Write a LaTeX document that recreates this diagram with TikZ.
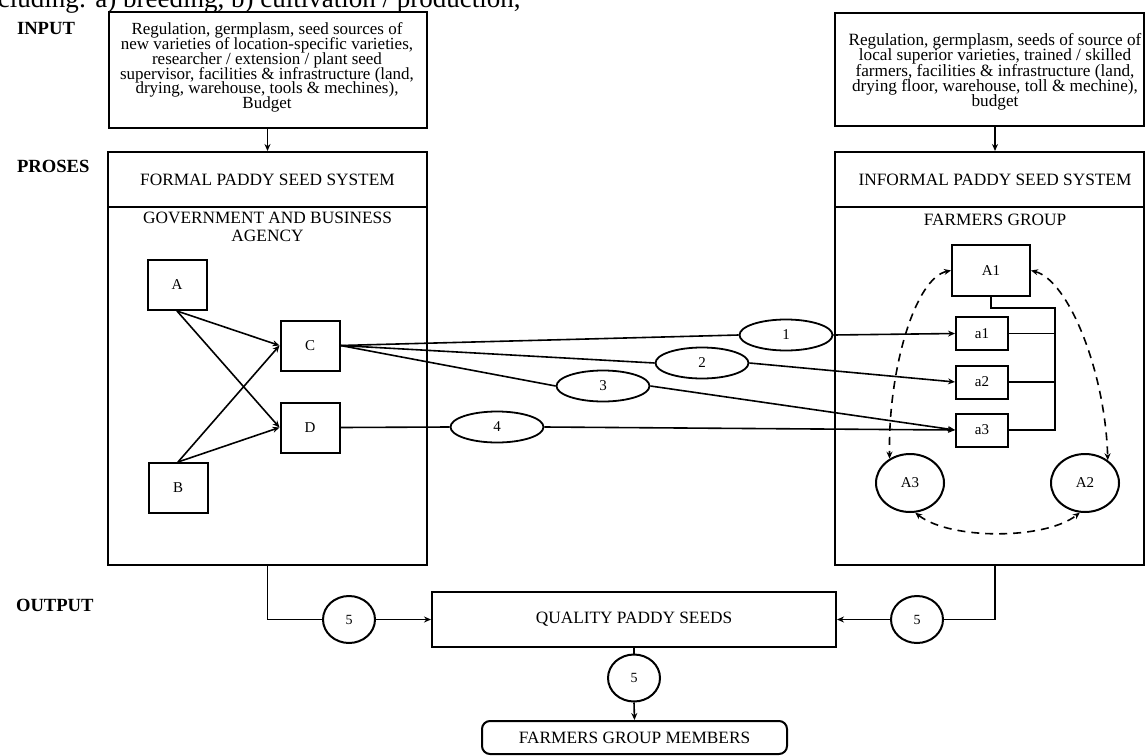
\documentclass[tikz,border=0pt]{standalone}
\usepackage{fontspec}
\setmainfont{Liberation Serif}
\usetikzlibrary{shapes,arrows.meta,positioning,calc}

\newcommand\tightlines{\lineskiplimit=-5pt\relax}

\tikzset{
  stage/.style={anchor=west, font=\fontsize{9.3}{11}\selectfont\bfseries},
  inputbox/.style={draw, line width=1pt, inner sep=0pt},
  inputtext/.style={align=center, inner sep=0pt, font=\fontsize{8.5}{7.4}\selectfont\tightlines},
  sysbox/.style={draw, line width=1pt, inner sep=0pt, font=\fontsize{8.65}{9}\selectfont},
  systext/.style={align=center, inner sep=0pt, font=\fontsize{8.65}{9}\selectfont},
  unitbox/.style={draw, line width=1pt, minimum width=29.5pt, minimum height=25pt, inner sep=0pt, font=\fontsize{7.5}{9}\selectfont},
  subbox/.style={draw, line width=1pt, minimum width=26pt, minimum height=16.5pt, inner sep=0pt, font=\fontsize{7.5}{9}\selectfont},
  stepoval/.style={draw, ellipse, line width=0.9pt, minimum width=46.5pt, minimum height=15.5pt, inner sep=0pt, font=\fontsize{7.5}{9}\selectfont},
  actor/.style={draw, ellipse, line width=1pt, minimum width=34pt, minimum height=29pt, inner sep=0pt, font=\fontsize{7.5}{9}\selectfont},
  fivecirc/.style={draw, ellipse, line width=1pt, minimum width=26pt, minimum height=23.5pt, inner sep=0pt, font=\fontsize{7}{8}\selectfont},
  flow/.style={line width=0.8pt},
  link/.style={line width=0.8pt, dash pattern=on 4pt off 3pt, <->},
  >={Stealth[length=3.5pt,width=3pt]}
}

\begin{document}
\begin{tikzpicture}[x=0.5pt,y=-0.5pt]
    \useasboundingbox (0,0) rectangle (1145,755);

    % Caption line cut at the top
    \node[anchor=base east, inner sep=0pt, font=\fontsize{13.5}{15}\selectfont] (caption) at (521,8)
        {including: a) breeding, b) cultivation / production,};

    % Stage labels
    \node[stage] (lin) at (10,28) {INPUT};
    \node[stage] (lpro) at (10,166) {PROSES};
    \node[stage] (lout) at (9,605) {OUTPUT};

    % Inputs
    \node[inputbox, minimum width=159pt, minimum height=58pt] (inL) at (267.5,70) {};
    \node[inputtext] (inLtxt) at (267,67.5)
        {Regulation, germplasm, seed sources of\\new varieties of location-specific varieties,\\researcher / extension / plant seed\\supervisor, facilities \& infrastructure (land,\\drying, warehouse, tools \& mechines),\\Budget};
    \node[inputbox, minimum width=154.5pt, minimum height=56.5pt] (inR) at (989.5,69.5) {};
    \node[inputtext, font=\fontsize{8.6}{7.7}\selectfont\tightlines] (inRtxt) at (995,72)
        {Regulation, germplasm, seeds of source of\\local superior varieties, trained / skilled\\farmers, facilities \& infrastructure (land,\\drying floor, warehouse, toll \& mechine),\\budget};

    % Formal system
    \node[sysbox, minimum width=159.5pt, minimum height=27.5pt] (fhead) at (267.5,179.5) {FORMAL PADDY SEED SYSTEM};
    \node[sysbox, minimum width=159.5pt, minimum height=179pt] (fbody) at (267.5,386) {};
    \node[systext] (fagency) at (267.5,227) {GOVERNMENT AND BUSINESS\\AGENCY};

    % Informal system
    \node[sysbox, minimum width=154.5pt, minimum height=27.5pt] (ihead) at (989.5,179.5) {};
    \node[systext] (iheadtxt) at (995,179.5) {INFORMAL PADDY SEED SYSTEM};
    \node[sysbox, minimum width=154.5pt, minimum height=179pt] (ibody) at (989.5,386) {};
    \node[systext] (ifarm) at (995,220) {FARMERS GROUP};

    \draw[flow,->] (inL.south) -- (inL.south |- fhead.north);
    \draw[flow,->] (inRtxt |- inR.south) -- (inRtxt |- ihead.north);

    % Agency units
    \node[unitbox] (A) at (177,285) {A};
    \node[unitbox] (B) at (178,488) {B};
    \node[unitbox] (C) at (310,345.5) {C};
    \node[unitbox] (D) at (310,427.5) {D};

    \draw[flow,->] (A.south) -- (C.west);
    \draw[flow,->] (A.south) -- (D.west);
    \draw[flow,->] (B.north) -- (C.west);
    \draw[flow,->] (B.north) -- (D.west);

    % Steps 1-4
    \node[stepoval] (e1) at (786,335) {1};
    \node[stepoval] (e2) at (702,363) {2};
    \node[stepoval] (e3) at (603,386) {3};
    \node[stepoval] (e4) at (497,427) {4};

    % Farmers group units
    \node[unitbox, minimum width=39pt, minimum height=25.5pt] (A1) at (991,270.5) {A1};
    \node[subbox] (a1) at (982,333.5) {a1};
    \node[subbox] (a2) at (982,382) {a2};
    \node[subbox] (a3) at (982,430) {a3};
    \node[actor] (A3) at (910,483) {A3};
    \node[actor] (A2) at (1085,483) {A2};

    \draw[flow] (C.east) -- (e1.west);
    \draw[flow,->] (e1.east) -- (a1.west);
    \draw[flow] (C.east) -- (e2.west);
    \draw[flow,->] (e2.east) -- (a2.west);
    \draw[flow] (C.east) -- (e3.west);
    \draw[flow,->] (e3.east) -- (a3.west);
    \draw[flow] (D.east) -- (e4.west);
    \draw[flow,->] (e4.east) -- (a3.west);

    % Bus from A1 to a1-a3
    \coordinate (busT) at (1055,308);
    \draw[line width=1pt] (A1.south) |- (busT) -- (busT |- a3.east) -- (a3.east);
    \draw[flow] (a1.east) -- (a1.east -| busT);
    \draw[flow] (a2.east) -- (a2.east -| busT);

    % Dashed links between A1, A2, A3
    \draw[link] (A1.west) .. controls (915,278) and (888,370) .. (A3.130);
    \draw[link] (A1.east) .. controls (1068,280) and (1105,370) .. (A2.45);
    \draw[link] (A3.-80) .. controls (950,540) and (1045,540) .. (A2.-100);

    % Output
    \node[sysbox, minimum width=202pt, minimum height=27.5pt] (qps) at (634,619.5) {QUALITY PADDY SEEDS};
    \node[fivecirc] (c5L) at (349,619.5) {5};
    \node[fivecirc] (c5R) at (917,619.5) {5};
    \node[fivecirc] (c5B) at (634,678) {5};
    \node[sysbox, rounded corners=4pt, minimum width=152.5pt, minimum height=16.5pt] (fgm) at (634.5,737.5) {FARMERS GROUP MEMBERS};

    \draw[flow] (fbody.south) |- (c5L.west);
    \draw[flow,->] (c5L.east) -- (qps.west);
    \draw[flow] (ifarm |- ibody.south) |- (c5R.east);
    \draw[flow,->] (c5R.west) -- (qps.east);
    \draw[flow] (qps.south) -- (c5B.north);
    \draw[flow,->] (c5B.south) -- (fgm.north);
\end{tikzpicture}
\end{document}
